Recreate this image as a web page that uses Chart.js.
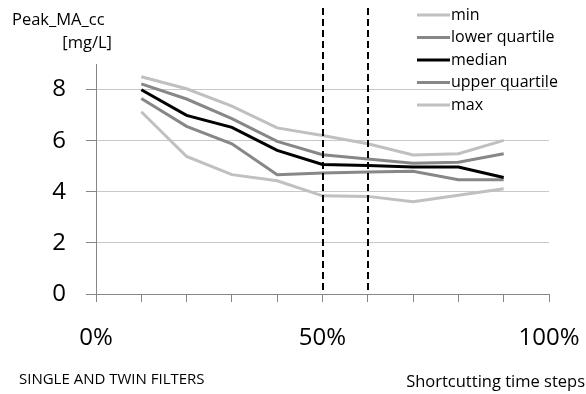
<!DOCTYPE html>
<html>
<head>
  <title>Peak_MA_cc</title>
  <script src="https://cdn.jsdelivr.net/npm/chart.js"></script>
  <style>
    html, body { margin: 0; padding: 0; background: #fff; }
    .wrap { position: relative; width: 586px; height: 394px; }
  </style>
</head>
<body>
  <div class="wrap">
    <canvas id="chart" width="586" height="394"></canvas>
  </div>
  <script>
    // 數據 (shortcutting %, Peak_MA_cc mg/L)
    const steps = [10, 20, 30, 40, 50, 60, 70, 80, 90];
    const minVals = [7.13, 5.38, 4.67, 4.43, 3.84, 3.82, 3.61, 3.86, 4.12];
    const lowerVals = [7.65, 6.56, 5.88, 4.67, 4.73, 4.77, 4.80, 4.47, 4.47];
    const medianVals = [7.99, 6.99, 6.52, 5.62, 5.07, 5.03, 4.97, 4.97, 4.56];
    const upperVals = [8.22, 7.63, 6.86, 5.97, 5.45, 5.28, 5.12, 5.16, 5.49];
    const maxVals = [8.50, 8.03, 7.35, 6.50, 6.20, 5.88, 5.44, 5.49, 6.01];
    const seriesNames = ['min', 'lower quartile', 'median', 'upper quartile', 'max'];
    const seriesColors = ['#c0c0c0', '#878787', '#000000', '#878787', '#c0c0c0'];
    const markers = [50, 60];
    const xLabels = [0, 50, 100];
    const yTicks = [0, 2, 4, 6, 8];

    const FONT = "'Open Sans', sans-serif";
    const allVals = [minVals, lowerVals, medianVals, upperVals, maxVals];

    const datasets = allVals.map((vals, i) => ({
      label: seriesNames[i],
      data: steps.map((x, j) => ({ x: x, y: vals[j] })),
      borderColor: seriesColors[i],
      backgroundColor: seriesColors[i],
      borderWidth: 3,
      pointRadius: 0,
      tension: 0,
      fill: false,
      order: i === 2 ? 0 : 1
    }));

    // 額外文字、圖例、虛線
    const extras = {
      id: 'extras',
      afterDatasetsDraw(chart) {
        const c = chart.ctx;
        const xs = chart.scales.x;
        const ys = chart.scales.y;
        c.save();
        // vertical dashed markers
        c.strokeStyle = '#000';
        c.lineWidth = 2;
        c.setLineDash([7, 4]);
        markers.forEach(m => {
          const px = Math.round(xs.getPixelForValue(m));
          c.beginPath();
          c.moveTo(px, 8);
          c.lineTo(px, ys.bottom);
          c.stroke();
        });
        c.setLineDash([]);
        // legend
        c.font = '16px ' + FONT;
        c.textBaseline = 'middle';
        c.textAlign = 'left';
        seriesNames.forEach((name, i) => {
          const ly = 15 + i * 22.5;
          c.strokeStyle = seriesColors[i];
          c.lineWidth = 3;
          c.beginPath();
          c.moveTo(417, ly);
          c.lineTo(450, ly);
          c.stroke();
          c.fillStyle = '#000';
          c.fillText(name, 451, ly);
        });
        // axis title
        c.font = '16.5px ' + FONT;
        c.textAlign = 'left';
        c.fillText('Peak_MA_cc', 12, 20);
        c.textAlign = 'right';
        c.fillText('[mg/L]', 112, 43);
        // bottom texts
        c.textAlign = 'left';
        c.font = '15px ' + FONT;
        c.fillText('SINGLE AND TWIN FILTERS', 19, 380);
        c.textAlign = 'right';
        c.font = '16.5px ' + FONT;
        c.fillText('Shortcutting time steps', 585, 382);
        c.restore();
      }
    };

    const ctx = document.getElementById('chart').getContext('2d');
    const chart = new Chart(ctx, {
      type: 'line',
      data: { datasets: datasets },
      options: {
        responsive: false,
        animation: false,
        layout: { padding: { left: 0, right: 37, top: 64, bottom: 0 } },
        plugins: {
          legend: { display: false },
          tooltip: { enabled: false }
        },
        scales: {
          x: {
            type: 'linear',
            min: 0,
            max: 100,
            afterBuildTicks: s => {
              s.ticks = [];
              for (let v = 0; v <= 100; v += 10) s.ticks.push({ value: v });
            },
            afterFit: s => { s.height = 100; s.paddingLeft = 0; s.paddingRight = 0; },
            grid: {
              drawOnChartArea: false,
              drawTicks: true,
              tickLength: 8,
              tickColor: '#868686',
              lineWidth: 1
            },
            border: { display: true, color: '#868686', width: 1 },
            ticks: {
              autoSkip: false,
              maxRotation: 0,
              padding: 22,
              color: '#000',
              font: { family: FONT, size: 24 },
              callback: v => xLabels.includes(v) ? v + '%' : ''
            }
          },
          y: {
            min: 0,
            max: 9,
            afterBuildTicks: s => {
              s.ticks = yTicks.map(v => ({ value: v }));
            },
            afterFit: s => { s.width = 96; s.paddingTop = 0; s.paddingBottom = 0; },
            grid: {
              color: ctx => ctx.tick && ctx.tick.value === 0 ? 'rgba(0,0,0,0)' : '#c8c8c8',
              borderDash: [3, 3],
              tickLength: 10,
              tickColor: '#868686',
              tickBorderDash: [],
              lineWidth: 1
            },
            border: { display: true, color: '#868686', width: 1, dash: [] },
            ticks: {
              padding: 20,
              color: '#000',
              font: { family: FONT, size: 24 }
            }
          }
        }
      },
      plugins: [extras]
    });
  </script>
</body>
</html>
